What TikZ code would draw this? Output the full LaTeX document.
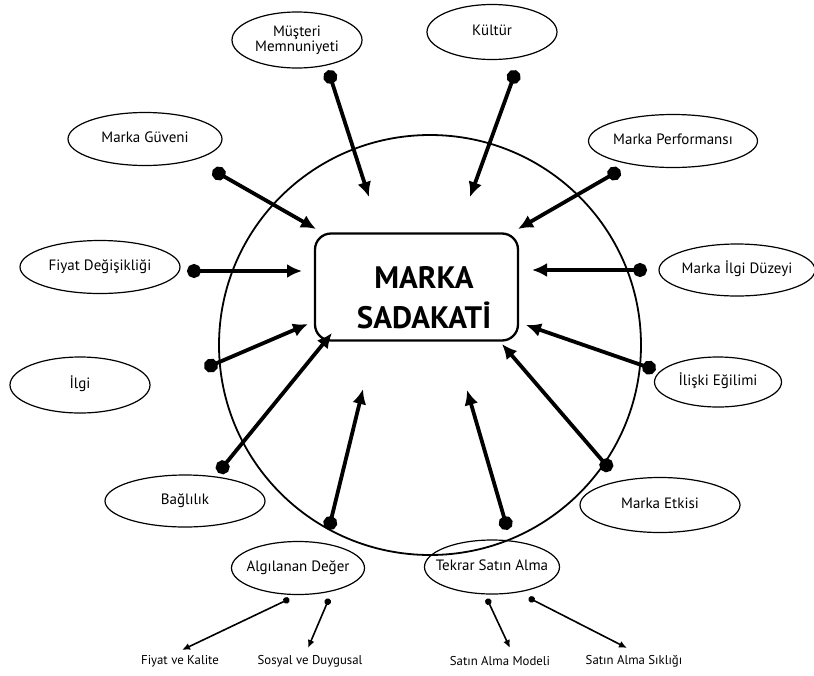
\documentclass[tikz,border=0pt]{standalone}
\usepackage{fontspec}
\setmainfont{PT Sans}
\usetikzlibrary{shapes.geometric,arrows.meta}
% text that does not widen the ellipse around it
\newcommand{\ovaltext}[1]{\makebox[0pt][c]{\begin{tabular}{@{}c@{}}#1\end{tabular}}}
\begin{document}
\begin{tikzpicture}[x=1pt,y=-1pt,
  factor/.style={draw,ellipse,line width=1.2pt,inner sep=0pt,font=\fontsize{15}{18}\selectfont},
  link/.style={line width=3.8pt,{Circle[length=14pt,width=14pt]}-{Latex[length=15pt,width=14pt]},shorten <=-6pt},
  sublink/.style={line width=1.6pt,{Circle[length=6.5pt,width=6.5pt]}-{Latex[length=8pt,width=7pt]},shorten <=-2.5pt},
  sublabel/.style={font=\fontsize{12.8}{14}\selectfont}]
\useasboundingbox (0,0) rectangle (814,675);
% outer circle and central box
\draw[line width=1.8pt] (430,345) ellipse (211 and 210);
\node[draw,rounded corners=16pt,line width=2.3pt,minimum width=203pt,minimum height=107pt] (core) at (416.5,287) {};
\node[align=center,font=\fontsize{31}{40}\bfseries\selectfont] (coretext) at (424,298) {MARKA\\SADAKATİ};
% factors
\node[factor,minimum width=130pt,minimum height=56pt] (f1) at (297,40) {\ovaltext{Müşteri\\[-3pt]Memnuniyeti}};
\node[factor,minimum width=130pt,minimum height=55pt] (f2) at (492,32) {\ovaltext{Kültür}};
\node[factor,minimum width=154pt,minimum height=53pt] (f3) at (145,139) {\ovaltext{Marka Güveni}};
\node[factor,minimum width=169pt,minimum height=53pt] (f4) at (673,141) {\ovaltext{Marka Performansı}};
\node[factor,minimum width=160pt,minimum height=53pt] (f5) at (100,267) {\ovaltext{Fiyat Değişikliği}};
\node[factor,minimum width=156pt,minimum height=52pt] (f6) at (737,270) {\ovaltext{Marka İlgi Düzeyi}};
\node[factor,minimum width=140pt,minimum height=56pt] (f7) at (80,385) {\ovaltext{İlgi}};
\node[factor,minimum width=127pt,minimum height=50pt] (f8) at (718,382) {\ovaltext{İlişki Eğilimi}};
\node[factor,minimum width=160pt,minimum height=52pt] (f9) at (185,501) {\ovaltext{Bağlılık}};
\node[factor,minimum width=160pt,minimum height=55pt] (f10) at (660,505) {\ovaltext{Marka Etkisi}};
\node[factor,minimum width=133pt,minimum height=53pt] (f11) at (298,568) {\ovaltext{Algılanan Değer}};
\node[factor,minimum width=135pt,minimum height=54pt] (f12) at (492,567) {\ovaltext{Tekrar Satın Alma}};
% connector end points
\coordinate (s1) at (330,76);  \coordinate (e1) at (369,197);
\coordinate (s2) at (514,76);  \coordinate (e2) at (470,197);
\coordinate (s3) at (218,173); \coordinate (e3) at (316,229);
\coordinate (s4) at (615,173); \coordinate (e4) at (518,229);
\coordinate (s5) at (193,271); \coordinate (e5) at (302,271);
\coordinate (s6) at (641,270); \coordinate (e6) at (532,270);
\coordinate (s7) at (210,366); \coordinate (e7) at (308,324);
\coordinate (s8) at (650,368); \coordinate (e8) at (526,325);
\coordinate (s9) at (222,468); \coordinate (e9) at (332,333);
\coordinate (s10) at (607,466); \coordinate (e10) at (502,344);
\coordinate (s11) at (330,524); \coordinate (e11) at (363,389);
\coordinate (s12) at (506,524); \coordinate (e12) at (467,390);
\foreach \i in {1,...,12} \draw[link] (s\i) -- (e\i);
% sub-factors
\node[sublabel] (g1) at (180,661) {Fiyat ve Kalite};
\node[sublabel] (g2) at (310,661) {Sosyal ve Duygusal};
\node[sublabel] (g3) at (500,661) {Satın Alma Modeli};
\node[sublabel] (g4) at (634,661) {Satın Alma Sıklığı};
\coordinate (t1) at (287,600); \coordinate (u1) at (182,650);
\coordinate (t2) at (328,601); \coordinate (u2) at (308,648);
\coordinate (t3) at (488,601); \coordinate (u3) at (510,648);
\coordinate (t4) at (531,599); \coordinate (u4) at (627,648);
\foreach \i in {1,...,4} \draw[sublink] (t\i) -- (u\i);
\end{tikzpicture}
\end{document}
